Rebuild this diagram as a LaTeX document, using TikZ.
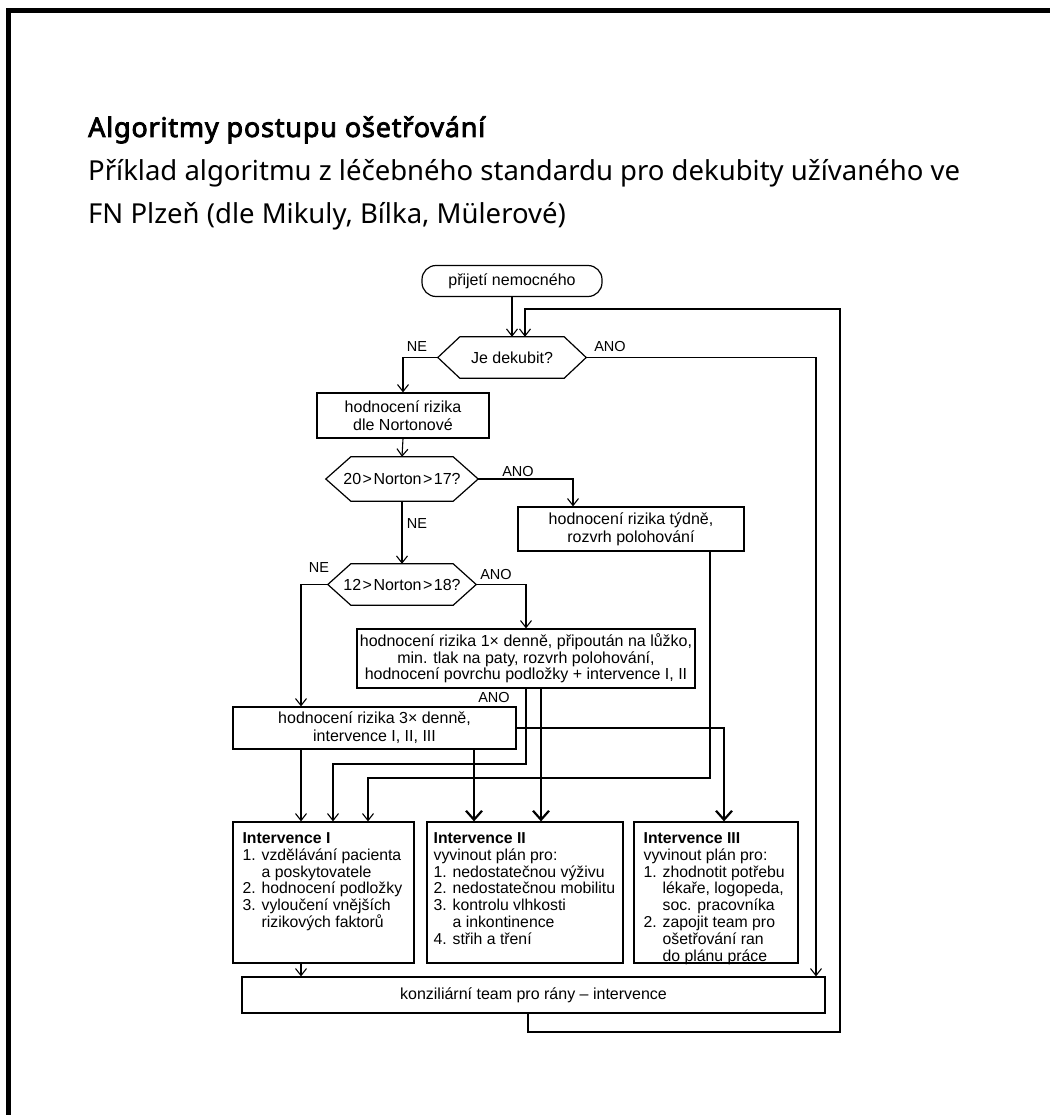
\documentclass[tikz,border=0pt]{standalone}
\usepackage{fontspec}
\setmainfont{Liberation Sans}
\newfontfamily\headfont{Noto Sans}
\newfontfamily\headbold{Noto Sans}[FakeBold=3,LetterSpace=3]
\usetikzlibrary{arrows.meta}
\newcommand\hexapath[2]{%
  \draw[line width=1.2pt] (#1.west) -- ([xshift=#2]#1.north west) -- ([xshift=-#2]#1.north east)
    -- (#1.east) -- ([xshift=-#2]#1.south east) -- ([xshift=#2]#1.south west) -- cycle;}
\newcommand\gtsign{\kern1.5pt>\kern1.5pt}
\begin{document}
\begin{tikzpicture}[x=1pt,y=-1pt,
  every node/.style={inner sep=0pt},
  box/.style={draw, line width=1.2pt, rectangle},
  txt/.style={font=\fontsize{16}{18}\selectfont, align=center},
  itxt/.style={anchor=north west, align=left, font=\fontsize{15.8}{16.8}\selectfont},
  hexa/.style={minimum height=41pt, font=\fontsize{16}{18}\selectfont},
  lbl/.style={font=\fontsize{14.5}{16}\selectfont},
  head/.style={anchor=base west, font=\headfont\fontsize{27.5}{30}\selectfont},
  arr/.style={line width=1.1pt, -{Straight Barb[length=7pt,width=11pt,line width=1.1pt]}},
  thk/.style={line width=2.4pt, -{Straight Barb[length=9pt,width=16pt,line width=2.2pt]}},
]
\useasboundingbox (0,0) rectangle (1050,1115);
\fill[white] (0,0) rectangle (1050,1115);
% frame
\draw[line width=5pt, line join=miter] (8.5,1115) -- (8.5,10.5) -- (1050,10.5);

% heading
\node[head, font=\headbold\fontsize{27}{30}\selectfont] (title) at (88,137) {Algoritmy postupu ošetřování};
\node[head] (sub1) at (88,181) {Příklad algoritmu z léčebného standardu pro dekubity užívaného ve};
\node[head] (sub2) at (88,224) {FN Plzeň (dle Mikuly, Bílka, Mülerové)};

% columns
\coordinate (c301) at (301,0);
\coordinate (c333) at (333,0);
\coordinate (c368) at (368,0);
\coordinate (c474) at (474,0);
\coordinate (c525) at (525,0);
\coordinate (c526) at (526,0);
\coordinate (c528) at (528,0);
\coordinate (c541) at (541,0);
\coordinate (c573) at (573,0);
\coordinate (c710) at (710,0);
\coordinate (c724) at (724,0);
\coordinate (c816) at (816,0);

% nodes
\node[box, rounded corners=14pt, minimum width=180pt, minimum height=31pt, txt] (start) at (512,281) {přijetí nemocného};
\node[hexa, minimum width=148pt] (dec1) at (512,357.5) {Je dekubit?};
\hexapath{dec1}{22pt}
\node[box, txt, minimum width=172pt, minimum height=45pt] (norton) at (403,415.5) {hodnocení rizika\\dle Nortonové};
\node[hexa, minimum width=152pt, minimum height=44pt] (dec2) at (402,479) {20\gtsign Norton\gtsign 17?};
\hexapath{dec2}{25pt}
\node[box, txt, minimum width=226pt, minimum height=44pt] (tydne) at (631,529) {hodnocení rizika týdně,\\rozvrh polohování};
\node[hexa, minimum width=148pt] (dec3) at (402,584.5) {12\gtsign Norton\gtsign 18?};
\hexapath{dec3}{23pt}
\node[box, txt, font=\fontsize{16}{16.5}\selectfont, minimum width=338pt, minimum height=59pt] (once) at (526,658.5) {hodnocení rizika 1× denně, připoután na lůžko,\\min. tlak na paty, rozvrh polohování,\\hodnocení povrchu podložky + intervence I, II};
\node[box, txt, minimum width=283pt, minimum height=42pt] (three) at (374.5,728) {hodnocení rizika 3× denně,\\intervence I, II, III};

\node[box, minimum width=181pt, minimum height=141pt] (int1) at (323.5,892.5) {};
\node[itxt] (int1t) at ([xshift=10pt,yshift=-11pt]int1.north west) {\textbf{Intervence I}\\1. vzdělávání pacienta\\\phantom{1. }a poskytovatele\\2. hodnocení podložky\\3. vyloučení vnějších\\\phantom{3. }rizikových faktorů};
\node[box, minimum width=196pt, minimum height=141pt] (int2) at (525,892.5) {};
\node[itxt] (int2t) at ([xshift=7pt,yshift=-11pt]int2.north west) {\textbf{Intervence II}\\vyvinout plán pro:\\1. nedostatečnou výživu\\2. nedostatečnou mobilitu\\3. kontrolu vlhkosti\\\phantom{3. }a inkontinence\\4. střih a tření};
\node[box, minimum width=164pt, minimum height=141pt] (int3) at (716,892.5) {};
\node[itxt] (int3t) at ([xshift=10pt,yshift=-11pt]int3.north west) {\textbf{Intervence III}\\vyvinout plán pro:\\1. zhodnotit potřebu\\\phantom{1. }lékaře, logopeda,\\\phantom{1. }soc. pracovníka\\2. zapojit team pro\\\phantom{2. }ošetřování ran\\\phantom{2. }do plánu práce};
\node[box, txt, minimum width=583pt, minimum height=36pt] (konz) at (533.5,995) {konziliární team pro rány – intervence};

% labels
\node[lbl] (l1) at (417,347) {NE};
\node[lbl] (l2) at (610,347) {ANO};
\node[lbl] (l3) at (518,472) {ANO};
\node[lbl] (l4) at (417,524) {NE};
\node[lbl] (l5) at (319,568) {NE};
\node[lbl] (l6) at (496,575) {ANO};
\node[lbl] (l7) at (494,698) {ANO};

% connectors
\draw[arr] (start.south) -- (start.south |- dec1.north);
\draw[arr] (c528 |- konz.south) -- (528,1032) -- (840,1032) -- (840,309) -- (525,309) -- (c525 |- dec1.north);
\draw[arr] (dec1.west) -| (norton.north);
\draw[arr] (dec1.east) -| (c816 |- konz.north);
\draw[arr] (norton.south) -- (dec2.north);
\draw[arr] (dec2.east) -| (c573 |- tydne.north);
\draw[arr] (dec2.south) -- (dec3.north);
\draw[arr] (dec3.west) -| (c301 |- three.north);
\draw[arr] (dec3.east) -| (once.north);
\draw[arr] (c710 |- tydne.south) -- (710,778) -- (368,778) -- (c368 |- int1.north);
\draw[arr] (c526 |- once.south) -- (526,764) -- (333,764) -- (c333 |- int1.north);
\draw[thk] (c541 |- once.south) -- (c541 |- int2.north);
\draw[arr] (c301 |- three.south) -- (c301 |- int1.north);
\draw[thk] (c474 |- three.south) -- (c474 |- int2.north);
\draw[thk] (three.east) -| (c724 |- int3.north);
\draw[arr] (c301 |- int1.south) -- (c301 |- konz.north);
\end{tikzpicture}
\end{document}
